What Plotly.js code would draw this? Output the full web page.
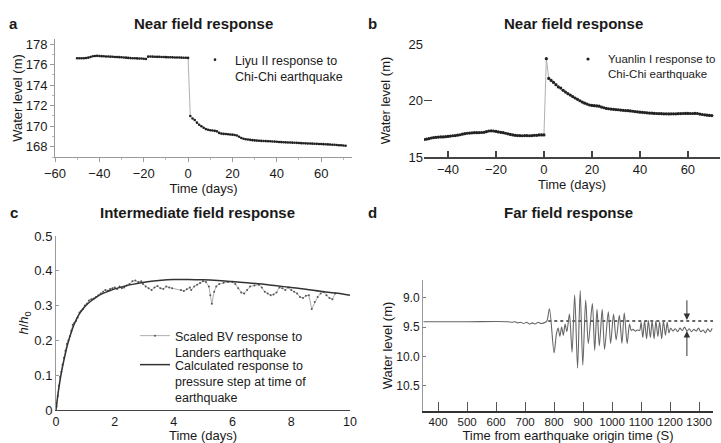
<!DOCTYPE html>
<html>
<head>
<meta charset="utf-8">
<script src="https://cdn.plot.ly/plotly-3.0.1.min.js"></script>
<style>html,body{margin:0;padding:0;background:#fff;}#chart{width:721px;height:443px;}</style>
</head>
<body>
<div id="chart"></div>
<script>
// ---- Panel a: Liyu II (daily, day -50 .. 71) ----
const aStartDay = -50;
const aLevel = [176.62,176.62,176.63,176.63,176.65,176.68,176.75,176.82,176.85,176.86,
176.85,176.83,176.82,176.80,176.80,176.78,176.77,176.75,176.74,176.73,
176.72,176.70,176.68,176.66,176.64,176.62,176.62,176.61,176.60,176.60,
176.58,176.55,176.78,176.80,176.78,176.77,176.76,176.76,176.75,176.74,
176.73,176.72,176.72,176.71,176.70,176.70,176.69,176.68,176.67,176.67,
176.66,171.00,170.75,170.60,170.35,170.15,170.00,169.85,169.72,169.65,
169.60,169.58,169.55,169.50,169.35,169.28,169.25,169.24,169.22,169.20,
169.18,169.15,169.10,168.98,168.85,168.78,168.73,168.70,168.67,168.64,
168.62,168.60,168.58,168.57,168.56,168.55,168.54,168.53,168.51,168.50,
168.48,168.46,168.45,168.44,168.43,168.42,168.41,168.40,168.39,168.38,
168.36,168.35,168.34,168.33,168.32,168.31,168.30,168.29,168.28,168.27,
168.26,168.25,168.24,168.23,168.22,168.20,168.19,168.17,168.15,168.14,
168.12,168.10];

// ---- Panel b: Yuanlin I (daily, day -50 .. 70) ----
const bStartDay = -50;
const bLevel = [16.55,16.58,16.62,16.68,16.72,16.74,16.76,16.78,16.78,16.80,
16.82,16.85,16.88,16.90,16.93,16.97,17.02,17.06,17.10,17.12,
17.14,17.15,17.15,17.16,17.17,17.18,17.24,17.30,17.32,17.30,
17.26,17.22,17.18,17.15,17.10,17.05,17.00,16.95,16.92,16.90,
16.90,16.88,16.90,16.90,16.88,16.90,16.92,16.92,16.95,16.95,
16.95,23.70,21.95,21.78,21.60,21.40,21.20,21.10,20.90,20.75,
20.60,20.48,20.35,20.22,20.10,19.98,19.86,19.76,19.68,19.60,
19.56,19.54,19.52,19.50,19.42,19.36,19.30,19.27,19.24,19.22,
19.20,19.18,19.15,19.13,19.11,19.10,19.08,19.05,19.02,19.00,
18.97,18.95,18.93,18.91,18.89,18.88,18.86,18.85,18.84,18.83,
18.82,18.82,18.81,18.82,18.82,18.82,18.83,18.84,18.85,18.86,
18.86,18.85,18.85,18.86,18.85,18.80,18.76,18.73,18.70,18.68,
18.67];

// ---- Panel c: scaled BV response (days, h/h0) ----
const cDays = [0.02,0.06,0.10,0.14,0.18,0.22,0.27,0.32,0.37,0.42,0.47,0.52,0.57,0.62,0.68,0.74,0.80,0.86,0.92,0.98,
1.05,1.12,1.20,1.28,1.36,1.44,1.52,1.60,1.68,1.76,1.84,1.92,2.00,2.08,2.16,2.24,2.32,2.40,2.50,2.60,
2.70,2.80,2.90,2.96,3.05,3.15,3.25,3.35,3.45,3.55,3.65,3.75,3.85,3.95,4.25,4.35,4.45,4.55,4.60,4.70,
4.80,4.90,5.00,5.10,5.20,5.25,5.30,5.38,5.45,5.55,5.70,5.85,6.00,6.10,6.20,6.30,6.40,6.50,6.60,6.75,
6.90,7.00,7.10,7.20,7.30,7.40,7.50,7.60,7.70,7.80,7.90,8.00,8.10,8.20,8.30,8.40,8.50,8.60,8.70,8.80,
8.90,9.00,9.10,9.20,9.30,9.40,9.50];
const cRatio = [0.010,0.040,0.070,0.095,0.110,0.130,0.150,0.170,0.190,0.200,0.212,0.228,0.245,0.250,0.256,0.266,0.280,0.285,0.290,0.300,
0.305,0.315,0.318,0.320,0.325,0.330,0.335,0.340,0.345,0.343,0.348,0.350,0.352,0.348,0.355,0.350,0.352,0.358,0.362,0.370,
0.372,0.368,0.370,0.362,0.355,0.350,0.345,0.352,0.356,0.350,0.348,0.355,0.352,0.350,0.345,0.342,0.347,0.352,0.345,0.355,
0.360,0.365,0.370,0.368,0.355,0.330,0.305,0.340,0.355,0.362,0.366,0.368,0.368,0.362,0.350,0.338,0.335,0.345,0.355,0.358,
0.360,0.352,0.340,0.335,0.330,0.332,0.338,0.352,0.350,0.345,0.352,0.345,0.340,0.335,0.325,0.322,0.328,0.330,0.290,0.310,
0.325,0.335,0.340,0.330,0.322,0.318,0.335];
// calculated response to pressure step
const calcDays = [0,0.05,0.1,0.2,0.3,0.4,0.5,0.6,0.7,0.8,0.9,1.0,1.2,1.4,1.6,1.8,2.0,2.3,2.6,3.0,3.5,4.0,4.5,5.0,5.5,6.0,6.5,7.0,7.5,8.0,8.5,9.0,9.5,10.0];
const calcRatio = [0,0.035,0.065,0.115,0.155,0.190,0.218,0.243,0.262,0.277,0.289,0.299,0.314,0.326,0.335,0.342,0.348,0.355,0.361,0.367,0.372,0.375,0.375,0.374,0.372,0.369,0.366,0.362,0.357,0.352,0.347,0.341,0.336,0.330];

// ---- Panel d: far field (seconds, water level m) ----
const dTime = [350,500,640,655,665,675,685,695,705,715,725,735,745,755,765,775,784,800,808,814,
820,826,832,838,844,853,862,871,881,890,899,909,918,932,940,948,956,966,974,987,
995,1005,1014,1025,1034,1042,1052,1060,1066,1072,1080,1088,1095,1100,1106,1112,1119,1125,1132,1138,
1145,1151,1158,1164,1171,1177,1184,1190,1196,1202,1210,1218,1226,1234,1242,1250,1258,1266,1274,1282,
1290,1298,1306,1314,1322,1330,1338,1345];
const dLevel = [9.41,9.41,9.41,9.42,9.41,9.43,9.42,9.44,9.42,9.45,9.43,9.45,9.42,9.44,9.43,9.40,9.19,9.94,9.62,9.52,
9.66,9.50,9.64,9.45,9.58,9.28,9.93,8.95,10.20,8.88,10.15,9.04,9.78,9.10,9.90,9.20,9.82,9.20,9.88,9.24,
9.78,9.28,9.72,9.30,9.78,9.26,9.78,9.45,9.56,9.54,9.57,9.55,9.56,9.42,9.68,9.40,9.70,9.39,9.68,9.40,
9.70,9.40,9.66,9.41,9.70,9.40,9.64,9.42,9.60,9.52,9.57,9.53,9.58,9.52,9.56,9.50,9.57,9.53,9.58,9.54,
9.57,9.52,9.58,9.55,9.60,9.53,9.58,9.52];
const dRefTime = [780, 1350];
const dRefLevel = [9.40, 9.40];
const dArrowTime = 1258;
const dPreLevel = 9.40, dPostLevel = 9.55;
const dArrowTail = [9.02, 10.02];

const FONT = 'Liberation Sans, Arial, Helvetica, sans-serif';
const INK = '#1a1a1a';

const traces = [
  {x0: aStartDay, dx: 1, y: aLevel, xaxis:'x', yaxis:'y', type:'scatter', mode:'lines',
   line:{color:'#b0b0b0', width:1}, showlegend:false, hoverinfo:'skip'},
  {x0: aStartDay, dx: 1, y: aLevel, xaxis:'x', yaxis:'y', type:'scatter', mode:'markers',
   marker:{color:'#222', size:2.6},
   name:'Liyu II response to<br>Chi-Chi earthquake', legend:'legend', showlegend:true},
  {x0: bStartDay, dx: 1, y: bLevel, xaxis:'x2', yaxis:'y2', type:'scatter', mode:'lines',
   line:{color:'#b0b0b0', width:1}, showlegend:false, hoverinfo:'skip'},
  {x0: bStartDay, dx: 1, y: bLevel, xaxis:'x2', yaxis:'y2', type:'scatter', mode:'markers',
   marker:{color:'#222', size:3.2},
   name:'Yuanlin I response to<br>Chi-Chi earthquake', legend:'legend2', showlegend:true},
  {x: cDays, y: cRatio, xaxis:'x3', yaxis:'y3', type:'scatter', mode:'lines+markers',
   line:{color:'#9a9a9a', width:0.8}, marker:{color:'#555', size:2},
   name:'Scaled BV response to<br>Landers earthquake', legend:'legend3', showlegend:true},
  {x: calcDays, y: calcRatio, xaxis:'x3', yaxis:'y3', type:'scatter', mode:'lines',
   line:{color:'#333', width:1.5, shape:'spline'},
   name:'Calculated response to<br>pressure step at time of<br>earthquake', legend:'legend4', showlegend:true},
  {x: dRefTime, y: dRefLevel, xaxis:'x4', yaxis:'y4', type:'scatter', mode:'lines',
   line:{color:'#333', width:1.5, dash:'dot'}, showlegend:false, hoverinfo:'skip'},
  {x: dTime, y: dLevel, xaxis:'x4', yaxis:'y4', type:'scatter', mode:'lines',
   line:{color:'#666', width:1.1, shape:'spline', smoothing:0.8}, showlegend:false}
];

const W = 721, H = 443;
const px = v => v / W;
const py = v => 1 - v / H;

const baseAxis = {
  showgrid:false, zeroline:false, automargin:false,
  tickfont:{family:FONT, size:13, color:INK},
  title:{font:{family:FONT, size:13, color:INK}}
};
function ax(extra){ 
  const o = JSON.parse(JSON.stringify(baseAxis));
  for (const k in extra){
    if (k === 'title') { o.title = Object.assign(o.title, extra.title); }
    else o[k] = extra[k];
  }
  return o;
}
function label(text, x, y, size){
  return {text:text, x:px(x), y:py(y), xref:'paper', yref:'paper', xanchor:'center', yanchor:'middle',
          showarrow:false, font:{family:FONT, size:size, color:INK}};
}
const legendFont = {family:FONT, size:12.5, color:INK};

const layout = {
  width:W, height:H, margin:{l:0,r:0,t:0,b:0, autoexpand:false},
  paper_bgcolor:'#fff', plot_bgcolor:'#fff',
  font:{family:FONT, color:INK, size:13},
  xaxis: ax({domain:[px(55), px(352)], range:[-60, 73.9], anchor:'y',
     tickvals:[-60,-40,-20,0,20,40,60], showline:true, linecolor:'#9a9a9a', linewidth:1,
     ticks:'outside', ticklen:4, tickcolor:'#9a9a9a',
     minor:{dtick:10, ticks:'outside', ticklen:2, tickcolor:'#bbb'},
     title:{text:'Time (days)', standoff:1}}),
  yaxis: ax({domain:[py(157), py(39)], range:[167.0, 178.5], anchor:'x',
     tickvals:[168,170,172,174,176,178], showline:true, linecolor:'#9a9a9a', linewidth:1,
     ticks:'outside', ticklen:4, tickcolor:'#9a9a9a',
     minor:{dtick:1, ticks:'outside', ticklen:2, tickcolor:'#bbb'},
     title:{text:'Water level (m)', standoff:0}}),
  xaxis2: ax({domain:[px(424), px(720)], range:[-50, 73.4], anchor:'y2',
     tickvals:[-40,-20,0,20,40,60], showline:true, linecolor:'#444', linewidth:1.5,
     ticks:'inside', ticklen:6, tickcolor:'#444', tickwidth:1.3,
     title:{text:'Time (days)', standoff:4}}),
  yaxis2: ax({domain:[py(157), py(44)], range:[15, 25], anchor:'x2',
     tickvals:[15,20,25], showline:false,
     ticks:'inside', ticklen:8, tickcolor:'#444', tickwidth:1.3,
     title:{text:'Water level (m)', standoff:14}}),
  xaxis3: ax({domain:[px(56), px(350)], range:[0, 10], anchor:'y3',
     tickvals:[0,2,4,6,8,10], showline:true, linecolor:'#444', linewidth:1.3,
     ticks:'', tickfont:{family:FONT, size:12.5, color:INK},
     title:{text:'Time (days)', standoff:3}}),
  yaxis3: ax({domain:[py(410), py(236)], range:[0, 0.5], anchor:'x3',
     tickvals:[0,0.1,0.2,0.3,0.4,0.5], ticktext:['0','0.1','0.2','0.3','0.4','0.5'],
     showline:true, linecolor:'#9a9a9a', linewidth:1,
     ticks:'inside', ticklen:3, tickcolor:'#9a9a9a',
     title:{text:'<i>h</i>/<i>h</i><sub>0</sub>', standoff:2}}),
  xaxis4: ax({domain:[px(423), px(713)], range:[348, 1348], anchor:'y4',
     tickvals:[400,500,600,700,800,900,1000,1100,1200,1300], tickangle:0,
     showline:true, linecolor:'#333', linewidth:1.5,
     ticks:'inside', ticklen:9, tickcolor:'#555', tickwidth:1,
     tickfont:{family:FONT, size:11.5, color:INK},
     title:{text:'Time from earthquake origin time (S)', standoff:2}}),
  yaxis4: ax({domain:[py(411), py(280)], range:[10.93, 8.7], anchor:'x4',
     tickvals:[9.0,9.5,10.0,10.5], tickformat:'.1f', showline:true, linecolor:'#9a9a9a', linewidth:1,
     ticks:'inside', ticklen:3, tickcolor:'#777',
     tickfont:{family:FONT, size:12, color:INK},
     title:{text:'Water level (m)', standoff:0}}),
  legend: {x:px(195), y:py(45), xanchor:'left', yanchor:'top', bgcolor:'rgba(0,0,0,0)',
     font:legendFont, valign:'top', borderwidth:0},
  legend2: {x:px(568), y:py(45), xanchor:'left', yanchor:'top', bgcolor:'rgba(0,0,0,0)',
     font:{family:FONT, size:11.5, color:INK}, valign:'top', borderwidth:0},
  legend3: {x:px(135), y:py(321), xanchor:'left', yanchor:'top', bgcolor:'rgba(0,0,0,0)',
     font:legendFont, valign:'top', borderwidth:0},
  legend4: {x:px(135), y:py(350), xanchor:'left', yanchor:'top', bgcolor:'rgba(0,0,0,0)',
     font:legendFont, valign:'top', borderwidth:0},
  annotations: [
    label('<b>Near field response</b>', 203, 24, 15),
    label('<b>Near field response</b>', 573, 24, 15),
    label('<b>Intermediate field response</b>', 197, 213, 15),
    label('<b>Far field response</b>', 568, 213, 15),
    label('<b>a</b>', 14, 24, 15),
    label('<b>b</b>', 372, 24, 15),
    label('<b>c</b>', 14, 213, 15),
    label('<b>d</b>', 372, 213, 15),
    {text:'', xref:'x4', yref:'y4', x:dArrowTime, y:dPreLevel, axref:'x4', ayref:'y4', ax:dArrowTime, ay:dArrowTail[0],
     showarrow:true, arrowhead:2, arrowsize:1.3, arrowwidth:1, arrowcolor:'#333', standoff:1},
    {text:'', xref:'x4', yref:'y4', x:dArrowTime, y:dPostLevel, axref:'x4', ayref:'y4', ax:dArrowTime, ay:dArrowTail[1],
     showarrow:true, arrowhead:2, arrowsize:1.3, arrowwidth:1, arrowcolor:'#333', standoff:1}
  ]
};

Plotly.newPlot('chart', traces, layout, {displayModeBar:false, staticPlot:true});
</script>
</body>
</html>
